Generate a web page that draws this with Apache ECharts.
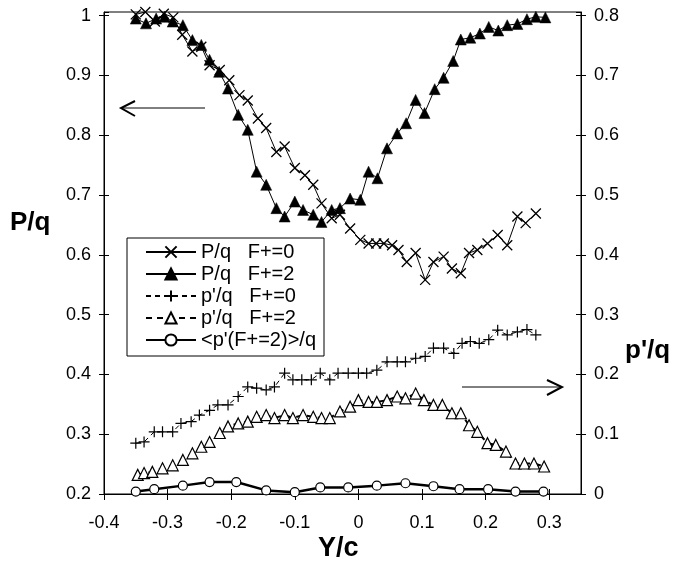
<!DOCTYPE html>
<html><head><meta charset="utf-8">
<script src="https://cdn.jsdelivr.net/npm/echarts@6/dist/echarts.min.js"></script>
<style>html,body{margin:0;padding:0;background:#fff}#c{width:691px;height:565px}</style>
</head><body><div id="c"></div>
<script>
// ---- data ----
const pq0X = [-0.350,-0.335,-0.320,-0.306,-0.291,-0.277,-0.261,-0.247,-0.234,-0.218,-0.203,-0.187,-0.174,-0.158,-0.145,-0.129,-0.116,-0.100,-0.084,-0.071,-0.058,-0.042,-0.029,-0.013,0.003,0.016,0.028,0.040,0.053,0.063,0.076,0.090,0.105,0.118,0.134,0.147,0.161,0.174,0.187,0.203,0.219,0.234,0.250,0.263,0.279];
const pq0Y = [1.002,1.006,0.990,1.003,0.997,0.968,0.940,0.948,0.917,0.909,0.892,0.867,0.858,0.828,0.812,0.772,0.781,0.745,0.733,0.717,0.686,0.661,0.667,0.644,0.625,0.619,0.619,0.619,0.616,0.608,0.588,0.603,0.558,0.588,0.597,0.577,0.569,0.603,0.608,0.619,0.633,0.616,0.664,0.653,0.669];

const pq2X = [-0.350,-0.334,-0.318,-0.305,-0.292,-0.276,-0.261,-0.247,-0.234,-0.219,-0.205,-0.189,-0.174,-0.160,-0.145,-0.129,-0.116,-0.100,-0.087,-0.071,-0.058,-0.042,-0.029,-0.013,0.003,0.016,0.030,0.045,0.061,0.075,0.090,0.104,0.120,0.134,0.149,0.161,0.176,0.191,0.205,0.220,0.234,0.250,0.265,0.279,0.294];
const pq2Y = [0.995,0.987,0.995,0.998,0.990,0.984,0.959,0.951,0.926,0.906,0.878,0.834,0.809,0.739,0.717,0.678,0.664,0.689,0.675,0.667,0.655,0.675,0.678,0.694,0.692,0.739,0.728,0.778,0.803,0.820,0.859,0.837,0.877,0.896,0.924,0.960,0.963,0.970,0.981,0.975,0.984,0.986,0.994,0.998,0.997];

const pp0X = [-0.350,-0.337,-0.321,-0.308,-0.292,-0.279,-0.263,-0.250,-0.234,-0.221,-0.205,-0.189,-0.174,-0.160,-0.145,-0.132,-0.116,-0.103,-0.089,-0.074,-0.060,-0.045,-0.032,-0.016,0.000,0.013,0.029,0.045,0.061,0.074,0.090,0.105,0.118,0.134,0.150,0.163,0.176,0.190,0.205,0.219,0.234,0.250,0.265,0.279];
const pp0Y = [0.085,0.087,0.104,0.104,0.104,0.118,0.121,0.132,0.140,0.149,0.149,0.163,0.179,0.177,0.174,0.179,0.202,0.191,0.191,0.191,0.202,0.191,0.202,0.202,0.202,0.202,0.207,0.221,0.221,0.221,0.227,0.230,0.244,0.244,0.235,0.252,0.255,0.252,0.258,0.274,0.266,0.271,0.275,0.266];

const pp2X = [-0.347,-0.337,-0.324,-0.308,-0.292,-0.276,-0.261,-0.247,-0.234,-0.218,-0.205,-0.189,-0.174,-0.160,-0.145,-0.132,-0.116,-0.103,-0.087,-0.071,-0.058,-0.045,-0.029,-0.013,0.000,0.016,0.029,0.045,0.061,0.074,0.090,0.103,0.118,0.132,0.147,0.161,0.174,0.187,0.203,0.216,0.232,0.247,0.261,0.276,0.292];
const pp2Y = [0.032,0.035,0.037,0.043,0.048,0.057,0.068,0.079,0.087,0.102,0.113,0.118,0.121,0.129,0.132,0.127,0.132,0.127,0.132,0.129,0.127,0.127,0.138,0.146,0.157,0.154,0.154,0.157,0.163,0.160,0.168,0.157,0.149,0.149,0.135,0.135,0.115,0.104,0.085,0.082,0.071,0.051,0.051,0.051,0.046];

const avgX = [-0.350,-0.321,-0.276,-0.234,-0.192,-0.145,-0.100,-0.060,-0.016,0.029,0.074,0.118,0.159,0.204,0.247,0.291];
const avgY = [0.004,0.008,0.014,0.020,0.020,0.006,0.003,0.011,0.011,0.014,0.018,0.013,0.008,0.008,0.004,0.004];

const names = ['P/q   F+=0','P/q   F+=2',"p'/q   F+=0","p'/q   F+=2","<p'(F+=2)>/q"];
const xMin = -0.4, xMax = 0.35, xStep = 0.1;
const yLMin = 0.2, yLMax = 1.006, yRMin = 0, yRMax = 0.806, yStep = 0.1;

const zip = (a, b) => a.map((v, i) => [v, b[i]]);
const FONT = 'Liberation Sans, Arial, sans-serif';

const chart = echarts.init(document.getElementById('c'), null, {renderer: 'canvas'});
const axLine = {show: true, onZero: false, lineStyle: {color: '#000', width: 1}};
const noLine = {show: false, onZero: false};
const lbl = {color: '#000', fontSize: 18, fontFamily: FONT};

chart.setOption({
  animation: false,
  backgroundColor: '#fff',
  grid: {left: 104, right: 110, top: 12, bottom: 71, show: true, borderColor: '#000', borderWidth: 1, containLabel: false, outerBoundsMode: 'none'},
  xAxis: [
    {type: 'value', min: xMin, max: xMax, interval: xStep, position: 'bottom',
     axisLine: axLine, axisTick: {show: true, inside: false, length: 6, lineStyle: {color: '#000'}},
     axisLabel: Object.assign({margin: 20, showMaxLabel: false}, lbl), splitLine: {show: false}},
    {type: 'value', min: xMin, max: xMax, interval: xStep, position: 'bottom',
     axisLine: noLine, axisTick: {show: true, inside: true, length: 5, lineStyle: {color: '#000'}},
     axisLabel: {show: false}, splitLine: {show: false}}
  ],
  yAxis: [
    {type: 'value', min: yLMin, max: yLMax, interval: yStep, position: 'left',
     axisLine: axLine, axisTick: {show: true, length: 5, lineStyle: {color: '#000'}},
     axisLabel: Object.assign({margin: 13, showMaxLabel: false}, lbl), splitLine: {show: false}},
    {type: 'value', min: yRMin, max: yRMax, interval: yStep, position: 'right',
     axisLine: axLine, axisTick: {show: true, length: 5, lineStyle: {color: '#000'}},
     axisLabel: Object.assign({margin: 13, showMaxLabel: false}, lbl), splitLine: {show: false}},
    {type: 'value', min: yLMin, max: yLMax, interval: yStep, position: 'left',
     axisLine: noLine, axisTick: {show: true, inside: true, length: 5, lineStyle: {color: '#000'}},
     axisLabel: {show: false}, splitLine: {show: false}},
    {type: 'value', min: yRMin, max: yRMax, interval: yStep, position: 'right',
     axisLine: noLine, axisTick: {show: true, inside: true, length: 5, lineStyle: {color: '#000'}},
     axisLabel: {show: false}, splitLine: {show: false}}
  ],
  legend: {
    show: true, orient: 'vertical', left: 127, top: 238,
    padding: [3, 8, 5, 18], itemGap: 0, itemWidth: 50, itemHeight: 14,
    backgroundColor: '#fff', borderColor: '#000', borderWidth: 1, borderRadius: 0,
    textStyle: {color: '#000', fontSize: 20, fontFamily: FONT, lineHeight: 22},
    data: names
  },
  series: [
    {name: names[0], type: 'line', yAxisIndex: 0, data: zip(pq0X, pq0Y),
     symbol: 'path://M0,0L10,10M10,0L0,10', symbolSize: 10,
     itemStyle: {color: '#000', borderColor: '#000', borderWidth: 1.3},
     lineStyle: {color: '#000', width: 1}, z: 3},
    {name: names[1], type: 'line', yAxisIndex: 0, data: zip(pq2X, pq2Y),
     symbol: 'triangle', symbolSize: 11,
     itemStyle: {color: '#000', borderColor: '#000', borderWidth: 0.5},
     lineStyle: {color: '#000', width: 1}, z: 4},
    {name: names[2], type: 'line', yAxisIndex: 1, data: zip(pp0X, pp0Y),
     symbol: 'path://M5,0L5,10M0,5L10,5', symbolSize: 11,
     itemStyle: {color: '#000', borderColor: '#000', borderWidth: 1.2},
     lineStyle: {color: '#000', width: 1, type: [5, 4]}, z: 3},
    {name: names[3], type: 'line', yAxisIndex: 1, data: zip(pp2X, pp2Y),
     symbol: 'triangle', symbolSize: 11,
     itemStyle: {color: '#fff', borderColor: '#000', borderWidth: 1.2},
     lineStyle: {color: '#000', width: 2, type: [6, 5]}, z: 3},
    {name: names[4], type: 'line', yAxisIndex: 1, data: zip(avgX, avgY),
     symbol: 'circle', symbolSize: 9,
     itemStyle: {color: '#fff', borderColor: '#000', borderWidth: 1.2},
     lineStyle: {color: '#000', width: 2.5}, z: 3}
  ],
  graphic: [
    {type: 'text', left: 10, top: 210, style: {text: 'P/q', fill: '#000', font: 'bold 26px ' + FONT}},
    {type: 'text', left: 625, top: 338, style: {text: "p'/q", fill: '#000', font: 'bold 26px ' + FONT}},
    {type: 'text', left: 318, top: 535, style: {text: 'Y/c', fill: '#000', font: 'bold 27px ' + FONT}},
    {type: 'polyline', shape: {points: [[205, 108], [121, 108]]}, style: {stroke: '#000', lineWidth: 1, fill: null}},
    {type: 'polyline', shape: {points: [[135, 101], [121, 108], [135, 116]]}, style: {stroke: '#000', lineWidth: 2, fill: null}},
    {type: 'polyline', shape: {points: [[462, 387], [562, 387]]}, style: {stroke: '#000', lineWidth: 1, fill: null}},
    {type: 'polyline', shape: {points: [[547, 380], [562, 387], [547, 395]]}, style: {stroke: '#000', lineWidth: 2, fill: null}}
  ]
});
</script></body></html>
